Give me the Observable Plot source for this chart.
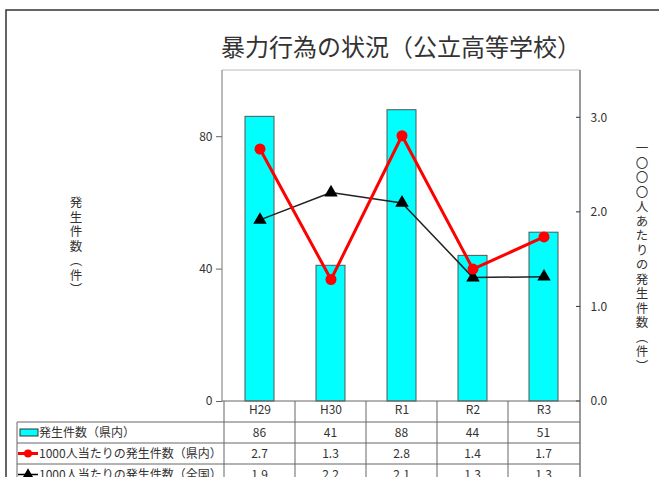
<!DOCTYPE html>
<html><head><meta charset="utf-8">
<script src="https://cdn.jsdelivr.net/npm/d3@7"></script>
<script src="https://cdn.jsdelivr.net/npm/@observablehq/plot@0.6"></script>
<style>
html,body{margin:0;padding:0;background:#fff;}
</style>
</head><body>
<div id="chart"></div>
<script>
const title = "暴力行為の状況（公立高等学校）";
const categories = ["H29", "H30", "R1", "R2", "R3"];
const counts = [86, 41, 88, 44, 51];
const rateKen = [2.67, 1.29, 2.81, 1.40, 1.74];
const rateZenkoku = [1.92, 2.21, 2.10, 1.31, 1.32];
const seriesNames = ["発生件数（県内）", "1000人当たりの発生件数（県内）", "1000人当たりの発生件数（全国）"];
const leftTicks = [0, 40, 80];
const rightTicks = [0, 1, 2, 3];
const leftTitle = "発生件数（件）";
const rightTitle = "一〇〇〇人あたりの発生件数（件）";

(function () {
const yMax = 100, rMax = 3.5, k = yMax / rMax;
const rows = categories.map((c, i) => ({cat: c, count: counts[i], ken: rateKen[i], zen: rateZenkoku[i]}));

const W = 659, H = 477, mT = 70, mB = 76, mL = 222, mR = 79;
const font = "'Noto Sans CJK JP', 'Noto Sans', sans-serif";

const plot = Plot.plot({
  width: W, height: H,
  marginTop: mT, marginBottom: mB, marginLeft: mL, marginRight: mR,
  style: {fontFamily: font, fontSize: "12px", color: "#333", background: "white", overflow: "visible"},
  x: {type: "band", domain: categories, paddingInner: 0, paddingOuter: 0},
  y: {domain: [0, yMax]},
  marks: [
    Plot.barY(rows, {x: "cat", y: "count", fill: "#00FFFF", stroke: "#555", strokeWidth: 1, insetLeft: 21, insetRight: 21}),
    Plot.line(rows, {x: "cat", y: d => d.zen * k, stroke: "#222", strokeWidth: 1.5}),
    Plot.dot(rows, {x: "cat", y: d => d.zen * k, symbol: "triangle", r: 5, fill: "#000", stroke: "none"}),
    Plot.line(rows, {x: "cat", y: d => d.ken * k, stroke: "#FF0000", strokeWidth: 3}),
    Plot.dot(rows, {x: "cat", y: d => d.ken * k, r: 5.5, fill: "#FF0000", stroke: "none"}),
    Plot.axisY({anchor: "left", ticks: leftTicks, tickSize: 6, tickPadding: 4, label: null, stroke: "#666"}),
    Plot.axisY({anchor: "right", ticks: rightTicks.map(v => v * k), tickFormat: d => (d / k).toFixed(1), tickSize: 0, tickPadding: 10, label: null}),
    Plot.axisX({anchor: "bottom", tickSize: 0, tickPadding: 4, label: null})
  ]
});

document.getElementById("chart").appendChild(plot);

const svg = d3.select(plot);
const xs = plot.scale("x"), ys = plot.scale("y");
const bw = xs.bandwidth;
const pL = mL, pR = W - mR, pT = mT, pB = H - mB;

const g = svg.append("g");
g.append("line").attr("x1", pL).attr("x2", pR).attr("y1", pT).attr("y2", pT).attr("stroke", "#bbb");
g.append("line").attr("x1", pL).attr("x2", pL).attr("y1", pT).attr("y2", pB).attr("stroke", "#777");
g.append("line").attr("x1", pR).attr("x2", pR).attr("y1", pT).attr("y2", H).attr("stroke", "#999").attr("stroke-width", 2);
rightTicks.forEach(v => {
  const y = ys.apply(v * k);
  g.append("line").attr("x1", pR - 4).attr("x2", pR).attr("y1", y).attr("y2", y).attr("stroke", "#333");
});
const rowY = [pB, 422, 443, 464, 485];
const tableLeft = 17;
g.append("line").attr("x1", pL).attr("x2", pR).attr("y1", pB).attr("y2", pB).attr("stroke", "#666");
[422, 443, 464].forEach(y => {
  g.append("line").attr("x1", tableLeft).attr("x2", pR).attr("y1", y).attr("y2", y).attr("stroke", "#666");
});
g.append("line").attr("x1", tableLeft).attr("x2", tableLeft).attr("y1", 422).attr("y2", H).attr("stroke", "#666");
categories.forEach(c => {
  const x = xs.apply(c);
  g.append("line").attr("x1", x).attr("x2", x).attr("y1", pB).attr("y2", H).attr("stroke", "#666");
});
const tableVals = [counts.map(String), rateKen.map(v => v.toFixed(1)), rateZenkoku.map(v => v.toFixed(1))];
tableVals.forEach((vals, r) => {
  const cy = (rowY[r + 1] + rowY[r + 2]) / 2;
  vals.forEach((v, i) => {
    g.append("text").attr("x", xs.apply(categories[i]) + bw / 2).attr("y", cy).attr("dy", "0.35em")
      .attr("text-anchor", "middle").attr("fill", "#333").style("font-size", "12px").text(v);
  });
  g.append("text").attr("x", 39).attr("y", cy).attr("dy", "0.35em").attr("fill", "#333")
    .attr("text-anchor", "start").style("font-size", "12px").text(seriesNames[r]);
});
const ky = [(422 + 443) / 2, (443 + 464) / 2, (464 + 485) / 2];
g.append("rect").attr("x", 20).attr("y", ky[0] - 3.5).attr("width", 18).attr("height", 7).attr("fill", "#00FFFF").attr("stroke", "#333");
g.append("line").attr("x1", 18).attr("x2", 38).attr("y1", ky[1]).attr("y2", ky[1]).attr("stroke", "#FF0000").attr("stroke-width", 3);
g.append("circle").attr("cx", 28).attr("cy", ky[1]).attr("r", 4).attr("fill", "#FF0000");
g.append("line").attr("x1", 18).attr("x2", 38).attr("y1", ky[2]).attr("y2", ky[2]).attr("stroke", "#000").attr("stroke-width", 1.5);
g.append("path").attr("d", d3.symbol(d3.symbolTriangle, 50)()).attr("transform", `translate(28,${ky[2]})`).attr("fill", "#000");
g.append("text").attr("x", (pL + pR) / 2).attr("y", 48).attr("dy", "0.35em").attr("text-anchor", "middle")
  .attr("fill", "#333").style("font-size", "24px").text(title);
function vtext(x, yc, s) {
  g.append("text").attr("x", x).attr("y", yc).attr("text-anchor", "middle").attr("fill", "#333")
    .style("font-size", "12.5px").style("writing-mode", "vertical-rl").style("text-orientation", "upright")
    .style("letter-spacing", "2px").text(s);
}
vtext(76, 247, leftTitle);
vtext(642, 258, rightTitle);
g.append("rect").attr("x", 6).attr("y", 10).attr("width", 720).attr("height", 600)
  .attr("fill", "none").attr("stroke", "#333").attr("stroke-width", 1.5);
})();
</script>
</body></html>
